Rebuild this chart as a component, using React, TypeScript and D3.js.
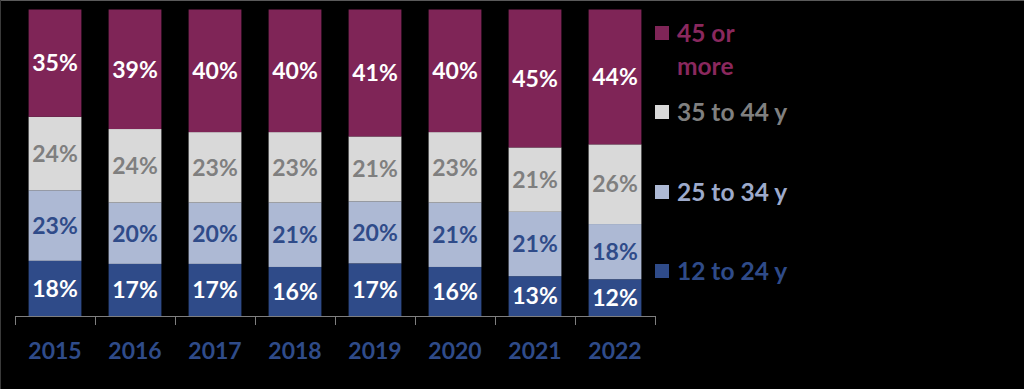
import React from "react";
import * as d3 from "d3";

const years = ["2015", "2016", "2017", "2018", "2019", "2020", "2021", "2022"];
const seriesNames = ["12 to 24 y", "25 to 34 y", "35 to 44 y", "45 or more"];
const v12to24 = [18, 17, 17, 16, 17, 16, 13, 12];
const v25to34 = [23, 20, 20, 21, 20, 21, 21, 18];
const v35to44 = [24, 24, 23, 23, 21, 23, 21, 26];
const v45plus = [35, 39, 40, 40, 41, 40, 45, 44];

const fills = ["#2F4B89", "#ADB9D4", "#D9D9D9", "#7F2557"];
const labelColors = ["#FFFFFF", "#2F4B89", "#7F7F7F", "#FFFFFF"];
const legendTextColors = ["#2F4B89", "#9DAACB", "#808080", "#8A285E"];

const W = 1024;
const H = 389;
const FONT = "Lato, 'Open Sans', sans-serif";

export default function App() {
  const rows = years.map((y, i) => ({
    year: y,
    s0: v12to24[i],
    s1: v25to34[i],
    s2: v35to44[i],
    s3: v45plus[i],
  }));
  const stack = d3
    .stack<any>()
    .keys(["s0", "s1", "s2", "s3"])
    .offset(d3.stackOffsetExpand);
  const stacked = stack(rows);

  const x = d3.scaleBand().domain(years).range([15, 655]).paddingInner(0.34).paddingOuter(0.17);
  const y = d3.scaleLinear().domain([0, 1]).range([316, 9.5]);
  const outer = d3.scaleBand().domain(years).range([15, 655]);

  const rawVals = [v12to24, v25to34, v35to44, v45plus];

  const legendItems = [
    { i: 3, lines: ["45 or", "more"], y: 33 },
    { i: 2, lines: ["35 to 44 y"], y: 112 },
    { i: 1, lines: ["25 to 34 y"], y: 192 },
    { i: 0, lines: ["12 to 24 y"], y: 271 },
  ];

  return (
    <svg
      width={W}
      height={H}
      style={{ position: "fixed", left: 0, top: 0, background: "#000" }}
      fontFamily={FONT}
    >
      <rect x={0} y={0} width={W} height={H} fill="#000" />
      <line x1={0} x2={W} y1={0.5} y2={0.5} stroke="#5a5a5a" />
      <line x1={0.5} x2={0.5} y1={0} y2={H} stroke="#3a3a3a" />
      {stacked.map((layer, si) => (
        <g key={si}>
          {layer.map((d, j) => {
            const x0 = x(years[j])!;
            const y0 = y(d[1]);
            const y1 = y(d[0]);
            return (
              <g key={j}>
                <rect x={x0} y={y0} width={x.bandwidth()} height={y1 - y0} fill={fills[si]} />
                <text
                  x={x0 + x.bandwidth() / 2}
                  y={(y0 + y1) / 2}
                  dy="0.36em"
                  textAnchor="middle"
                  fontSize={23}
                  fontWeight={700}
                  fill={labelColors[si]}
                >
                  {rawVals[si][j]}%
                </text>
              </g>
            );
          })}
        </g>
      ))}
      <line x1={15} x2={655} y1={316.5} y2={316.5} stroke="#7f7f7f" />
      {[...years.map((yr) => outer(yr)!), 655].map((tx, k) => (
        <line key={k} x1={tx + 0.5} x2={tx + 0.5} y1={316} y2={325} stroke="#7f7f7f" />
      ))}
      {years.map((yr) => (
        <text
          key={yr}
          x={outer(yr)! + outer.bandwidth() / 2}
          y={351}
          dy="0.36em"
          textAnchor="middle"
          fontSize={23}
          fontWeight={700}
          fill="#2F4B89"
        >
          {yr}
        </text>
      ))}
      {legendItems.map((it) => (
        <g key={it.i}>
          <rect x={655} y={it.y - 7} width={14} height={14} fill={fills[it.i]} />
          {it.lines.map((ln, k) => (
            <text
              key={k}
              x={677}
              y={it.y + k * 33}
              dy="0.36em"
              fontSize={24.5}
              fontWeight={700}
              fill={legendTextColors[it.i]}
            >
              {ln}
            </text>
          ))}
        </g>
      ))}
    </svg>
  );
}
